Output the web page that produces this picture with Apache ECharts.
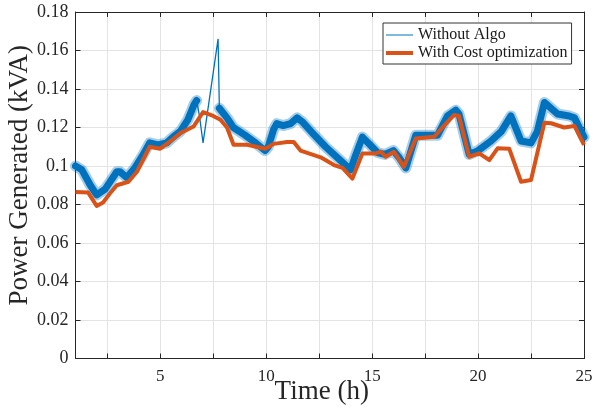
<!DOCTYPE html>
<html>
<head>
<meta charset="utf-8">
<script src="https://cdn.jsdelivr.net/npm/echarts@6/dist/echarts.min.js"></script>
<style>
  html, body { margin: 0; padding: 0; background: #ffffff; }
  #chart { width: 593px; height: 411px; }
</style>
</head>
<body>
<div id="chart"></div>
<script>
// Generated power over one day, hours 1..25
const blueHours1 = [1.0, 1.3, 1.7, 2.0, 2.4, 2.95, 3.1, 3.42, 3.8, 4.2, 4.5, 4.9, 5.3, 5.6, 5.95, 6.3, 6.6, 6.72];
const blueValues1 = [0.100, 0.098, 0.090, 0.085, 0.088, 0.097, 0.097, 0.094, 0.099, 0.106, 0.112, 0.111, 0.112, 0.115, 0.118, 0.124, 0.132, 0.134];

// transient excursion around hour 7 (no ripple)
const blueHoursSpike = [6.72, 6.85, 7.02, 7.73, 7.79];
const blueValuesSpike = [0.134, 0.126, 0.112, 0.166, 0.130];

const blueHours2 = [7.79, 8.15, 8.45, 9.0, 9.5, 9.95, 10.1, 10.35, 10.5, 10.8, 11.15, 11.46, 11.7, 12.2, 12.8, 13.4, 13.98, 14.2, 14.54, 14.9, 15.25, 15.6, 16.0, 16.3, 16.59, 17.06, 17.5, 18.09, 18.56, 18.95, 19.1, 19.58, 20.0, 20.61, 21.1, 21.55, 22.03, 22.5, 22.8, 23.13, 23.76, 24.3, 24.55, 25.0];
const blueValues2 = [0.130, 0.125, 0.120, 0.116, 0.112, 0.108, 0.110, 0.119, 0.122, 0.121, 0.122, 0.125, 0.123, 0.117, 0.110, 0.104, 0.098, 0.105, 0.115, 0.111, 0.107, 0.106, 0.108, 0.104, 0.099, 0.116, 0.116, 0.116, 0.126, 0.129, 0.127, 0.106, 0.108, 0.113, 0.118, 0.126, 0.113, 0.112, 0.118, 0.133, 0.127, 0.126, 0.125, 0.115];

const costHours = [1.0, 1.6, 2.0, 2.3, 2.63, 2.95, 3.5, 3.9, 4.5, 5.0, 5.5, 5.94, 6.57, 7.02, 7.5, 7.84, 8.15, 8.46, 9.1, 9.96, 10.36, 10.99, 11.3, 11.62, 12.57, 13.2, 13.6, 14.07, 14.54, 15.17, 15.4, 15.64, 16.03, 16.5, 17.06, 17.93, 18.4, 18.87, 19.1, 19.58, 20.05, 20.53, 20.92, 21.47, 22.03, 22.5, 23.13, 23.45, 24.06, 24.55, 25.0];
const costValues = [0.0865, 0.0862, 0.0792, 0.081, 0.0858, 0.090, 0.0918, 0.097, 0.110, 0.109, 0.113, 0.117, 0.1205, 0.128, 0.126, 0.124, 0.120, 0.111, 0.111, 0.109, 0.1115, 0.1125, 0.1125, 0.108, 0.1045, 0.1005, 0.099, 0.0935, 0.1065, 0.1065, 0.1075, 0.1048, 0.1074, 0.0996, 0.1143, 0.1152, 0.121, 0.1265, 0.126, 0.1048, 0.1066, 0.1031, 0.1092, 0.109, 0.0918, 0.0927, 0.1225, 0.1222, 0.120, 0.1208, 0.111];

const xTickValues = [2.5, 5, 7.5, 10, 12.5, 15, 17.5, 20, 22.5, 25];
const xLabelValues = [5, 10, 15, 20, 25];

const pair = (xs, ys) => xs.map((x, i) => [x, ys[i]]);

const FONT = '"Liberation Serif", "Times New Roman", serif';
const AXIS_COLOR = '#262626';
const GRID_COLOR = '#e3e3e3';
const BLUE = '#0072BD';
const BLUE_HALO = 'rgba(0, 114, 189, 0.35)';
const ORANGE = '#D95319';

const chart = echarts.init(document.getElementById('chart'), null, { renderer: 'canvas' });

const baseX = {
  type: 'value', min: 1, max: 25,
  nameMoveOverlap: false,
  axisLine: { show: true, onZero: false, lineStyle: { color: AXIS_COLOR, width: 1 } },
  axisTick: { show: true, inside: true, length: 5, customValues: xTickValues, lineStyle: { color: AXIS_COLOR } }
};
const baseY = {
  type: 'value', min: 0, max: 0.18, interval: 0.02,
  nameMoveOverlap: false,
  axisLine: { show: true, onZero: false, lineStyle: { color: AXIS_COLOR, width: 1 } },
  axisTick: { show: true, inside: true, length: 5, lineStyle: { color: AXIS_COLOR } }
};

// noisy measured trace: soft halo underneath a solid core
const noisySeries = (hours, values, width, color, z) => ({
  name: 'Without Algo', type: 'line', xAxisIndex: 0, yAxisIndex: 0,
  symbol: 'none', smooth: false, color: BLUE,
  lineStyle: { color: color, width: width, join: 'round', cap: 'round' },
  data: pair(hours, values), z: z
});

chart.setOption({
  animation: false,
  backgroundColor: '#ffffff',
  grid: { left: 75.5, right: 9, top: 12, bottom: 52.5, containLabel: false, outerBoundsMode: 'none' },
  legend: {
    show: true,
    orient: 'vertical',
    left: 383, top: 23,
    padding: [4, 4, 3, 3],
    itemGap: 2,
    itemWidth: 27, itemHeight: 14,
    backgroundColor: '#ffffff',
    borderColor: '#333333', borderWidth: 1, borderRadius: 0,
    textStyle: { fontFamily: FONT, fontSize: 16, color: '#1a1a1a' },
    data: [
      { name: 'Without Algo', icon: 'path://M0,6 L27,6 L27,7 L0,7 Z', itemStyle: { color: BLUE } },
      { name: 'With Cost optimization', icon: 'path://M0,5 L27,5 L27,9 L0,9 Z', itemStyle: { color: ORANGE } }
    ]
  },
  xAxis: [
    Object.assign({}, baseX, {
      position: 'bottom',
      name: 'Time (h)', nameLocation: 'middle', nameGap: 20,
      nameTextStyle: { fontFamily: FONT, fontSize: 27, color: AXIS_COLOR, padding: [0, 16, 0, 0] },
      axisLabel: { show: true, customValues: xLabelValues, margin: 10, fontFamily: FONT, fontSize: 17, color: AXIS_COLOR },
      splitLine: { show: true, lineStyle: { color: GRID_COLOR, width: 1 } }
    }),
    Object.assign({}, baseX, {
      position: 'top',
      axisLabel: { show: false },
      splitLine: { show: false }
    })
  ],
  yAxis: [
    Object.assign({}, baseY, {
      position: 'left',
      name: 'Power Generated (kVA)', nameLocation: 'middle', nameGap: 42,
      nameTextStyle: { fontFamily: FONT, fontSize: 27, color: AXIS_COLOR, padding: [0, 0, 0, 20] },
      axisLabel: { show: true, margin: 7, fontFamily: FONT, fontSize: 18, color: AXIS_COLOR },
      splitLine: { show: true, lineStyle: { color: GRID_COLOR, width: 1 } }
    }),
    Object.assign({}, baseY, {
      position: 'right',
      axisLabel: { show: false },
      splitLine: { show: false }
    })
  ],
  series: [
    noisySeries(blueHours1, blueValues1, 11, BLUE_HALO, 1),
    noisySeries(blueHours1, blueValues1, 7, BLUE, 2),
    {
      name: 'Without Algo', type: 'line', xAxisIndex: 0, yAxisIndex: 0,
      symbol: 'none', smooth: false, color: BLUE,
      lineStyle: { color: BLUE, width: 1.3 },
      data: pair(blueHoursSpike, blueValuesSpike), z: 2
    },
    noisySeries(blueHours2, blueValues2, 11, BLUE_HALO, 1),
    noisySeries(blueHours2, blueValues2, 7, BLUE, 2),
    {
      name: 'With Cost optimization', type: 'line', xAxisIndex: 0, yAxisIndex: 0,
      symbol: 'none', smooth: false, color: ORANGE,
      lineStyle: { color: ORANGE, width: 4, join: 'round' },
      data: pair(costHours, costValues), z: 3
    }
  ]
});
</script>
</body>
</html>
